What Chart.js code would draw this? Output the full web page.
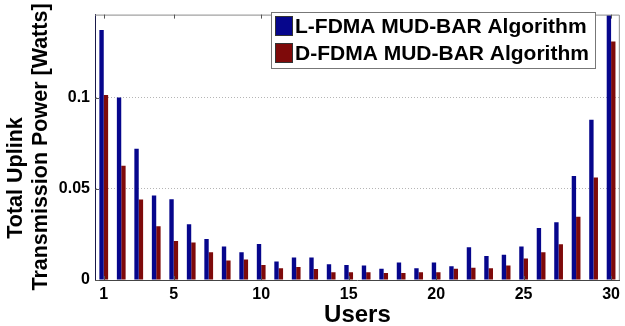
<!DOCTYPE html>
<html>
<head>
<meta charset="utf-8">
<script src="https://cdn.jsdelivr.net/npm/chart.js@4/dist/chart.umd.min.js"></script>
<style>
  html, body { margin: 0; padding: 0; background: #fff; }
  #wrap { width: 625px; height: 326px; position: relative; }
</style>
</head>
<body>
<div id="wrap"><canvas id="c" width="625" height="326"></canvas></div>
<script>
// Users 1..30
const users = Array.from({ length: 30 }, (_, i) => String(i + 1));
const shownUserTicks = ['1', '5', '10', '15', '20', '25', '30'];

// Total uplink transmission power per user [Watts]
const lfdmaPower = [
  0.137, 0.100, 0.072, 0.0463, 0.0443, 0.0305, 0.0225, 0.0183, 0.0152, 0.0198,
  0.0102, 0.0123, 0.0123, 0.0087, 0.0082, 0.0080, 0.0062, 0.0096, 0.0065, 0.0096,
  0.0076, 0.0180, 0.0132, 0.0138, 0.0183, 0.0285, 0.0316, 0.0570, 0.0878, 0.1452
];
const dfdmaPower = [
  0.1014, 0.0626, 0.0441, 0.0294, 0.0214, 0.0205, 0.0152, 0.0107, 0.0113, 0.0082,
  0.0065, 0.0071, 0.0060, 0.0042, 0.0042, 0.0042, 0.0038, 0.0038, 0.0042, 0.0043,
  0.0061, 0.0067, 0.0065, 0.0080, 0.0118, 0.0152, 0.0196, 0.0347, 0.0562, 0.1307
];
const powerTicks = [0, 0.05, 0.1];
const seriesNames = ['L-FDMA MUD-BAR Algorithm', 'D-FDMA MUD-BAR Algorithm'];

const BLUE = '#06068c';
const RED = '#7e0a0a';
const FONT = '"Liberation Sans", Arial, sans-serif';

// Axes box (top/right border), inward tick marks, boxed legend and y title
const framePlugin = {
  id: 'frame',
  afterDraw(chart) {
    const { ctx, chartArea: a, scales } = chart;
    ctx.save();
    // top and right border
    ctx.strokeStyle = '#8a8a8a';
    ctx.lineWidth = 1;
    ctx.beginPath();
    ctx.moveTo(a.left, a.top + 0.5);
    ctx.lineTo(a.right - 0.5, a.top + 0.5);
    ctx.lineTo(a.right - 0.5, a.bottom);
    ctx.stroke();
    // inward x tick marks at top and bottom
    ctx.strokeStyle = '#555';
    shownUserTicks.forEach(t => {
      const x = Math.round(scales.x.getPixelForValue(users.indexOf(t))) + 0.5;
      ctx.beginPath();
      ctx.moveTo(x, a.top); ctx.lineTo(x, a.top + 4);
      ctx.moveTo(x, a.bottom); ctx.lineTo(x, a.bottom - 4);
      ctx.stroke();
    });
    // inward y tick marks
    powerTicks.forEach(v => {
      const y = Math.round(scales.y.getPixelForValue(v)) + 0.5;
      ctx.beginPath();
      ctx.moveTo(a.left, y); ctx.lineTo(a.left + 4, y);
      ctx.stroke();
    });

    // legend box
    const lx = 271.5, ly = 12.5, lw = 324, lh = 56;
    ctx.fillStyle = '#fff';
    ctx.fillRect(lx, ly, lw, lh);
    ctx.strokeStyle = '#777';
    ctx.strokeRect(lx, ly, lw, lh);
    const colors = [BLUE, RED];
    ctx.font = 'bold 21px ' + FONT;
    ctx.textBaseline = 'middle';
    ctx.textAlign = 'left';
    seriesNames.forEach((name, i) => {
      const py = 16 + i * 27;
      ctx.fillStyle = colors[i];
      ctx.fillRect(275, py, 18, 20);
      ctx.strokeStyle = '#333';
      ctx.strokeRect(275.5, py + 0.5, 17, 19);
      ctx.fillStyle = '#000';
      ctx.fillText(name, 295, py + 11);
    });

    // y-axis title, two lines
    ctx.font = 'bold 21.5px ' + FONT;
    ctx.fillStyle = '#000';
    ctx.textAlign = 'center';
    ctx.textBaseline = 'middle';
    [['Total Uplink', 16.5, 178], ['Transmission Power [Watts]', 41, 147]].forEach(([txt, x, y]) => {
      ctx.save();
      ctx.translate(x, y);
      ctx.rotate(-Math.PI / 2);
      ctx.fillText(txt, 0, 0);
      ctx.restore();
    });
    ctx.restore();
  }
};

new Chart(document.getElementById('c'), {
  type: 'bar',
  data: {
    labels: users,
    datasets: [
      { label: seriesNames[0], data: lfdmaPower, backgroundColor: BLUE },
      { label: seriesNames[1], data: dfdmaPower, backgroundColor: RED }
    ]
  },
  options: {
    responsive: false,
    animation: false,
    devicePixelRatio: 1,
    layout: { padding: { top: 12, right: 1, left: 0, bottom: 0 } },
    datasets: { bar: { categoryPercentage: 0.5, barPercentage: 1.0 } },
    plugins: { legend: { display: false }, tooltip: { enabled: false } },
    scales: {
      x: {
        afterFit(scale) { scale.height = 46; },
        grid: { display: false, drawTicks: false },
        border: { display: true, color: '#444', width: 1 },
        ticks: {
          autoSkip: false, maxRotation: 0, minRotation: 0, padding: 5,
          color: '#000', font: { family: FONT, size: 16, weight: 'bold' },
          callback(value) {
            const l = this.getLabelForValue(value);
            return shownUserTicks.includes(l) ? l : '';
          }
        },
        title: {
          display: true, text: 'Users', color: '#000',
          font: { family: FONT, size: 24, weight: 'bold' },
          padding: { top: 0, bottom: -4 }
        }
      },
      y: {
        min: 0, max: 0.1455,
        afterBuildTicks(scale) { scale.ticks = powerTicks.map(v => ({ value: v })); },
        afterFit(scale) { scale.width = 95; },
        grid: {
          drawTicks: false,
          color: ctx => (ctx.tick && ctx.tick.value > 0 ? '#b5b5b5' : 'rgba(0,0,0,0)'),
          lineWidth: 1
        },
        border: { display: true, color: '#1a1a4a', width: 1, dash: [1, 2] },
        ticks: {
          padding: 5, color: '#000',
          font: { family: FONT, size: 16, weight: 'bold' },
          callback: v => String(v)
        }
      }
    }
  },
  plugins: [framePlugin]
});
</script>
</body>
</html>
